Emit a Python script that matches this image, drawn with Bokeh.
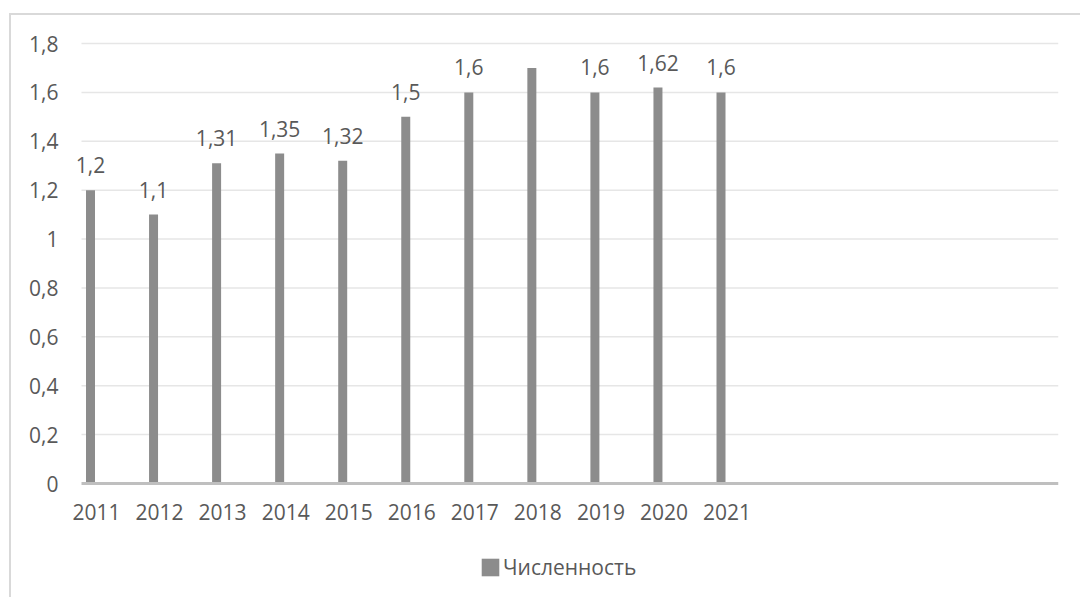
from bokeh.plotting import figure
from bokeh.models import FixedTicker, Legend, LegendItem
from bokeh.embed import file_html
from bokeh.resources import INLINE
from bokeh.core.properties import value

# ---- data ----
years = ["2011", "2012", "2013", "2014", "2015", "2016", "2017", "2018", "2019", "2020", "2021"]
values = [1.2, 1.1, 1.31, 1.35, 1.32, 1.5, 1.6, 1.7, 1.6, 1.62, 1.6]
show_label = [True, True, True, True, True, True, True, False, True, True, True]
y_ticks = [0, 0.2, 0.4, 0.6, 0.8, 1.0, 1.2, 1.4, 1.6, 1.8]
y_tick_labels = ["0", "0,2", "0,4", "0,6", "0,8", "1", "1,2", "1,4", "1,6", "1,8"]
series_name = "Численность"

data_labels = [("%g" % v).replace(".", ",") if s else "" for v, s in zip(values, show_label)]
idx = list(range(len(years)))

# ---- layout constants (page pixels) ----
FONT = "Open Sans"
TXT = "#595959"
BAR = "#8C8C8C"
slot_px = 63.05
origin_x, origin_y = 11, 15          # canvas origin on page
frame_left_pg, frame_right_pg = 66, 1058
grid_left_pg = 81
bar0_pg = 90
zero_pg, top_pg = 483, 43            # y=0 and y=1.8 on page
frame_top_pg, frame_bottom_pg = 41, 590
ymax = 1.8
px_per_unit = (zero_pg - top_pg) / ymax
legend_left_pg, legend_bottom_pg = 479, 581
glyph_box = 22                       # legend area glyph is drawn inset inside its box -> ~14 px

frame_w = frame_right_pg - frame_left_pg
frame_h = frame_bottom_pg - frame_top_pg
canvas_w, canvas_h = 1069, 582
mb_left = frame_left_pg - origin_x
mb_top = frame_top_pg - origin_y
mb_right = canvas_w - mb_left - frame_w
mb_bottom = canvas_h - mb_top - frame_h

x_start = -(bar0_pg - frame_left_pg) / slot_px
x_end = x_start + frame_w / slot_px
x_grid0 = -(bar0_pg - grid_left_pg) / slot_px
label_shift = 6 / slot_px
y_start = -(frame_bottom_pg - zero_pg) / px_per_unit
y_end = ymax + (top_pg - frame_top_pg) / px_per_unit

p = figure(width=canvas_w, height=canvas_h, output_backend="svg", toolbar_location=None,
           x_range=(x_start, x_end), y_range=(y_start, y_end),
           min_border_left=mb_left, min_border_right=mb_right,
           min_border_top=mb_top, min_border_bottom=mb_bottom,
           frame_width=frame_w, frame_height=frame_h)
p.styles = {"border-top": "2px solid #D9D9D9", "border-left": "2px solid #D9D9D9",
            "margin-top": "13px", "margin-left": "9px"}
p.outline_line_color = None
p.background_fill_color = "white"
p.border_fill_color = "white"
p.xgrid.grid_line_color = None
p.ygrid.grid_line_color = None

# gridlines and zero line
grid_ticks = [t for t in y_ticks if t > 0]
p.segment(x0=[x_grid0] * len(grid_ticks), x1=[x_end] * len(grid_ticks), y0=grid_ticks, y1=grid_ticks,
          line_color="#E6E6E6", line_width=1.5)

bars = p.vbar(x=idx, top=values, width=9 / slot_px, bottom=0, fill_color=BAR, line_color=None)

p.segment(x0=[x_grid0], x1=[x_end], y0=[0], y1=[0], line_color="#BFBFBF", line_width=3)

p.text(x=idx, y=values, text=data_labels, text_align="center", text_baseline="alphabetic",
       y_offset=-25, text_font=value(FONT), text_font_size="21px", text_color=TXT)

# x axis (fixed at y = 0)
x_tick_pos = [i + label_shift for i in idx]
p.xaxis.fixed_location = 0
p.xaxis.ticker = FixedTicker(ticks=x_tick_pos)
p.xaxis.major_label_overrides = {t: y for t, y in zip(x_tick_pos, years)}
p.xaxis.major_tick_line_color = None
p.xaxis.major_tick_out = 0
p.xaxis.major_tick_in = 0
p.xaxis.minor_tick_line_color = None
p.xaxis.axis_line_color = None
p.xaxis.major_label_standoff = 20
p.xaxis.major_label_text_font = FONT
p.xaxis.major_label_text_font_size = "21px"
p.xaxis.major_label_text_color = TXT

# y axis
p.yaxis.ticker = FixedTicker(ticks=y_ticks)
p.yaxis.major_label_overrides = {t: l for t, l in zip(y_ticks, y_tick_labels)}
p.yaxis.major_tick_line_color = None
p.yaxis.major_tick_out = 0
p.yaxis.major_tick_in = 0
p.yaxis.minor_tick_line_color = None
p.yaxis.axis_line_color = None
p.yaxis.major_label_standoff = 8
p.yaxis.major_label_text_font = FONT
p.yaxis.major_label_text_font_size = "21px"
p.yaxis.major_label_text_color = TXT

legend = Legend(items=[LegendItem(label=series_name, renderers=[bars])],
                location=(legend_left_pg - frame_left_pg, frame_bottom_pg - legend_bottom_pg),
                glyph_width=glyph_box, glyph_height=glyph_box, label_standoff=2,
                padding=0, margin=0, spacing=0,
                border_line_color=None, background_fill_alpha=0,
                label_text_font=FONT, label_text_font_size="21px", label_text_color=TXT)
p.add_layout(legend)

open("out.html", "w").write(file_html(p, INLINE))
